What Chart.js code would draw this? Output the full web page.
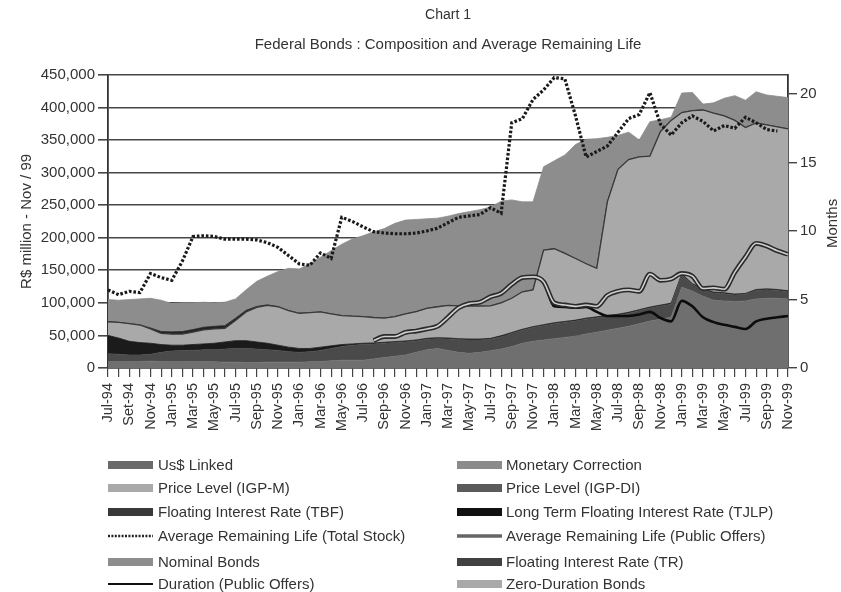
<!DOCTYPE html>
<html><head><meta charset="utf-8">
<script src="https://cdn.jsdelivr.net/npm/chart.js@4.4.0/dist/chart.umd.min.js"></script>
<style>
html,body{margin:0;padding:0;background:#fff;}
#wrap{position:relative;width:841px;height:592px;overflow:hidden;font-family:"Liberation Sans",Arial,Helvetica,sans-serif;color:#333;}
#c{position:absolute;left:0;top:0;}
.lg{position:absolute;height:18px;line-height:18px;font-size:15px;white-space:nowrap;color:#333;}
.sw{position:absolute;display:block;}
</style></head><body>
<div id="wrap"><canvas id="c" width="841" height="592"></canvas><div id="legend"></div></div>
<script>
// ---------- DATA (R$ million, Nov/99 prices; months) ----------
const months = ['Jul-94','Aug-94','Set-94','Oct-94','Nov-94','Dec-94','Jan-95','Feb-95','Mar-95','Apr-95','May-95','Jun-95','Jul-95','Aug-95','Sep-95','Oct-95','Nov-95','Dec-95','Jan-96','Feb-96','Mar-96','Apr-96','May-96','Jun-96','Jul-96','Aug-96','Sep-96','Oct-96','Nov-96','Dec-96','Jan-97','Feb-97','Mar-97','Apr-97','May-97','Jun-97','Jul-97','Aug-97','Sep-97','Oct-97','Nov-97','Dec-97','Jan-98','Feb-98','Mar-98','Apr-98','May-98','Jun-98','Jul-98','Aug-98','Sep-98','Oct-98','Nov-98','Dec-98','Jan-99','Feb-99','Mar-99','Apr-99','May-99','Jun-99','Jul-99','Aug-99','Sep-99','Oct-99','Nov-99'];

const usLinked = [10000,9500,9500,10000,10500,10000,9500,9500,10000,10000,9500,9000,9000,8500,8500,9000,9000,9000,9000,9500,
 10000,11000,12000,12000,12000,14000,16000,18000,20000,24000,28000,30000,27000,24000,22500,24000,26500,29000,33000,38000,
 41000,43000,45000,47000,49000,52000,55000,58000,61000,64000,68000,72000,75000,78000,124000,118000,110000,104000,103000,102000,
 103000,106000,107000,107000,106000];

const floatTR = [12000,11500,10500,10000,10500,14000,16500,17500,17000,18000,18500,20000,21000,21500,20500,19000,18000,16000,15000,15500,
 17000,19000,21000,23000,24000,23000,22000,21000,20000,17500,16000,15000,17500,19500,20500,19000,17500,19000,20000,20000,
 21000,22000,23000,23000,23000,23000,22000,21000,20000,20000,20000,20000,20000,20000,19000,10000,10000,11000,11000,10000,
 10000,13000,13000,12000,11000];

const tjlp = [28000,25000,21000,19000,17000,12000,9000,8000,9000,9000,10000,11000,12000,12000,11000,10000,8000,7000,6000,5000,
 5000,4000,3000,2000,2000,1500,1500,1500,1500,1500,1500,1500,1500,1500,1500,1500,1500,1500,1500,1500,
 1500,1500,1500,1500,1500,1500,1500,1500,1500,1500,1500,1500,1500,1500,1500,1500,1500,1500,1500,1500,
 1500,1500,1500,1500,1500];

const zeroDuration = [21000,24000,27000,27000,22000,17000,17000,17000,19000,21500,22000,21000,31000,44000,53000,58000,59000,56000,54000,55000,
 54000,49000,44500,42500,41000,39000,37000,38500,41500,43500,46000,47500,50000,50500,50500,50500,50000,50500,52500,57500,
 56500,114500,113500,104500,94500,83500,74500,174500,222500,234500,234500,231500,266500,280500,247500,265500,274500,274500,271500,266500,
 254500,255500,251500,249500,248500];

const tbf = [0,0,0,0,1500,3000,3500,4000,4000,4000,4000,4000,3500,2500,1500,1000,0,0,0,0,
 0,0,0,0,0,0,0,0,0,0,0,0,0,0,0,0,0,0,0,0,
 0,0,0,0,0,0,0,0,0,0,0,0,0,0,0,0,0,0,0,0,
 0,0,0,0,0];

const nominal = [34000,34000,37000,40000,45500,48000,43500,44000,41000,38500,36000,36000,29500,31500,38500,44000,54000,65000,68000,75000,
 84000,97000,109500,118500,124000,131500,137500,143000,144000,141500,137500,136000,137000,141500,145000,148000,151500,156000,151000,138000,
 135000,128000,135000,151000,175000,191000,199000,99000,52000,42000,26000,53000,18000,5000,30000,28000,9000,16000,27000,38000,
 42000,48000,46000,47000,48000];

const arlTotal = [5.7,5.35,5.6,5.5,6.9,6.6,6.4,7.8,9.6,9.65,9.6,9.4,9.4,9.4,9.35,9.15,8.8,8.2,7.6,7.5,
 8.4,8.0,11.0,10.7,10.3,9.95,9.85,9.8,9.8,9.85,10.0,10.2,10.6,11.0,11.1,11.2,11.7,11.3,17.9,18.2,
 19.6,20.3,21.2,21.1,18.4,15.4,15.8,16.2,17.2,18.2,18.5,20.1,17.8,17.0,17.9,18.4,18.0,17.3,17.7,17.5,
 18.3,17.9,17.4,17.3,null];

const arlPublic = [null,null,null,null,null,null,null,null,null,null,null,null,null,null,null,null,null,null,null,null,
 null,null,null,null,null,2.0,2.3,2.3,2.6,2.7,2.85,3.05,3.7,4.4,4.7,4.8,5.2,5.45,6.1,6.6,
 6.65,6.3,4.75,4.6,4.5,4.6,4.5,5.3,5.6,5.7,5.6,6.85,6.4,6.5,6.9,6.7,5.8,5.85,5.75,7.0,
 8.1,9.1,8.9,8.55,8.3];

const durationPublic = [null,null,null,null,null,null,null,null,null,null,null,null,null,null,null,null,null,null,null,null,
 null,null,null,null,null,2.0,2.3,2.3,2.6,2.7,2.85,3.05,3.7,4.4,4.7,4.8,5.2,5.45,6.1,6.6,
 6.65,6.3,4.5,4.45,4.4,4.45,4.1,3.8,3.8,3.8,3.9,4.1,3.65,3.4,4.9,4.5,3.7,3.35,3.15,3.0,
 2.85,3.4,3.6,3.7,3.8];

const leftTicks = {min:0, max:450000, step:50000};
const rightTicks = {min:0, max:21.4, step:5};

// ---------- STYLE ----------
const FONT = '"Liberation Sans", Arial, Helvetica, sans-serif';
const TXT = '#333333';
Chart.defaults.font.family = FONT;
Chart.defaults.color = TXT;

const areaDefs = [
  {label:'Us$ Linked', data:usLinked, color:'#6f6f6f'},
  {label:'Floating Interest Rate (TR)', data:floatTR, color:'#4a4a4a'},
  {label:'Long Term Floating Interest Rate (TJLP)', data:tjlp, color:'#1b1b1b'},
  {label:'Zero-Duration Bonds', data:zeroDuration, color:'#a9a9a9', border:'#3a3a3a', bw:1.3},
  {label:'Floating Interest Rate (TBF)', data:tbf, color:'#232323'},
  {label:'Nominal Bonds', data:nominal, color:'#8d8d8d'}
];
const areaDatasets = areaDefs.map((d,i)=>({
  type:'line', label:d.label, data:d.data, yAxisID:'y',
  fill: i===0 ? 'origin' : '-1',
  backgroundColor:d.color, borderColor:d.border||d.color, borderWidth:d.bw||0.8,
  pointRadius:0, tension:0, order:10
}));
const lineDatasets = [
  {type:'line', label:'Duration (Public Offers)', data:durationPublic, yAxisID:'y1', fill:false,
   borderColor:'#0c0c0c', borderWidth:2.6, pointRadius:0, cubicInterpolationMode:'monotone', order:4},
  {type:'line', label:'Average Remaining Life (Public Offers)', data:arlPublic, yAxisID:'y1', fill:false,
   borderColor:'#2a2a2a', borderWidth:4.8, pointRadius:0, cubicInterpolationMode:'monotone', order:3},
  {type:'line', label:'Average Remaining Life (Public Offers) core', data:arlPublic, yAxisID:'y1', fill:false,
   borderColor:'#cfcfcf', borderWidth:1.6, pointRadius:0, cubicInterpolationMode:'monotone', order:2},
  {type:'line', label:'Average Remaining Life (Total Stock)', data:arlTotal, yAxisID:'y1', fill:false,
   borderColor:'#1a1a1a', borderWidth:3.2, borderDash:[2.6,1.9], borderCapStyle:'butt', pointRadius:0, tension:0, order:1}
];

const monthsTitle = {
  id:'monthsTitle',
  afterDraw(chart){
    const ctx = chart.ctx, s = chart.scales.y1;
    ctx.save();
    ctx.translate(s.right - 8, (chart.chartArea.top + chart.chartArea.bottom)/2 + 2);
    ctx.rotate(-Math.PI/2);
    ctx.font = '15px ' + FONT;
    ctx.fillStyle = TXT; ctx.textAlign = 'center'; ctx.textBaseline = 'middle';
    ctx.fillText('Months', 0, 0);
    ctx.restore();
  }
};

new Chart(document.getElementById('c'), {
  type:'line',
  data:{labels:months, datasets:[...areaDatasets, ...lineDatasets]},
  options:{
    responsive:false, animation:false, devicePixelRatio:1,
    layout:{padding:0},
    plugins:{
      legend:{display:false}, tooltip:{enabled:false},
      title:{display:true, text:'Chart 1', fullSize:false, color:TXT, font:{size:14, weight:'normal'}, padding:{top:7,bottom:0}},
      subtitle:{display:true, text:'Federal Bonds : Composition and Average Remaining Life', fullSize:false, color:TXT, font:{size:15}, padding:{top:12,bottom:21}}
    },
    scales:{
      x:{
        type:'category', offset:false,
        grid:{display:true, drawOnChartArea:false, drawTicks:true, tickLength:9, color:'#444', lineWidth:1.2},
        border:{display:true, color:'#333', width:1.6},
        ticks:{autoSkip:false, maxRotation:90, minRotation:90, padding:6, color:TXT, font:{size:14.5},
          callback:function(v,i){ return i%2===0 ? this.getLabelForValue(v) : ''; }},
        afterFit:(s)=>{ s.height = 224; }
      },
      y:{
        stacked:true, min:leftTicks.min, max:leftTicks.max,
        ticks:{stepSize:leftTicks.step, padding:3, color:TXT, font:{size:15},
          callback:(v)=>v.toLocaleString('en-US')},
        grid:{color:'#474747', lineWidth:1.6, tickLength:10, drawTicks:true},
        border:{display:true, color:'#333', width:1.8},
        title:{display:true, text:'R$ million - Nov / 99', color:TXT, font:{size:15}, padding:{top:18,bottom:0}},
        afterFit:(s)=>{ s.width = 108; }
      },
      y1:{
        position:'right', min:rightTicks.min, max:rightTicks.max,
        ticks:{stepSize:rightTicks.step, padding:3, color:TXT, font:{size:15}},
        grid:{drawOnChartArea:false, tickLength:9, color:'#444', lineWidth:1.4},
        border:{display:true, color:'#333', width:1.8},
        afterBuildTicks:(s)=>{ s.ticks = s.ticks.filter(t => t.value % rightTicks.step === 0); },
        afterFit:(s)=>{ s.width = 53; }
      }
    }
  },
  plugins:[monthsTitle]
});

// ---------- LEGEND (two columns, same order as the reference) ----------
const legendItems = [
  {label:'Us$ Linked', kind:'box', color:'#6a6a6a'},
  {label:'Monetary Correction', kind:'box', color:'#8b8b8b'},
  {label:'Price Level (IGP-M)', kind:'box', color:'#a9a9a9'},
  {label:'Price Level (IGP-DI)', kind:'box', color:'#5b5b5b'},
  {label:'Floating Interest Rate (TBF)', kind:'box', color:'#393939'},
  {label:'Long Term Floating Interest Rate (TJLP)', kind:'box', color:'#111111'},
  {label:'Average Remaining Life (Total Stock)', kind:'dots', color:'#222222'},
  {label:'Average Remaining Life (Public Offers)', kind:'line', color:'#666666', w:3.5},
  {label:'Nominal Bonds', kind:'box', color:'#8d8d8d'},
  {label:'Floating Interest Rate (TR)', kind:'box', color:'#414141'},
  {label:'Duration (Public Offers)', kind:'line', color:'#111111', w:2},
  {label:'Zero-Duration Bonds', kind:'box', color:'#a9a9a9'}
];
const legendRowsY = [465, 488, 512, 536, 562, 584];
const legendCols = [{sw:108, tx:158}, {sw:457, tx:506}];
const lg = document.getElementById('legend');
legendItems.forEach((it, i) => {
  const col = legendCols[i % 2], y = legendRowsY[Math.floor(i / 2)];
  let sw;
  if (it.kind === 'box') {
    sw = document.createElement('div');
    sw.style.cssText = `left:${col.sw}px;top:${y-4}px;width:45px;height:8px;background:${it.color};`;
  } else {
    sw = document.createElementNS('http://www.w3.org/2000/svg','svg');
    sw.setAttribute('width','45'); sw.setAttribute('height','8');
    sw.style.cssText = `left:${col.sw}px;top:${y-4}px;`;
    const ln = document.createElementNS('http://www.w3.org/2000/svg','line');
    ln.setAttribute('x1','0'); ln.setAttribute('x2','45'); ln.setAttribute('y1','4'); ln.setAttribute('y2','4');
    ln.setAttribute('stroke', it.color);
    ln.setAttribute('stroke-width', it.kind === 'dots' ? '2.4' : String(it.w));
    if (it.kind === 'dots') ln.setAttribute('stroke-dasharray','2 1.4');
    sw.appendChild(ln);
  }
  sw.setAttribute('class','sw');
  lg.appendChild(sw);
  const t = document.createElement('div');
  t.className = 'lg';
  t.style.left = col.tx + 'px';
  t.style.top = (y - 9) + 'px';
  t.textContent = it.label;
  lg.appendChild(t);
});
</script></body></html>
